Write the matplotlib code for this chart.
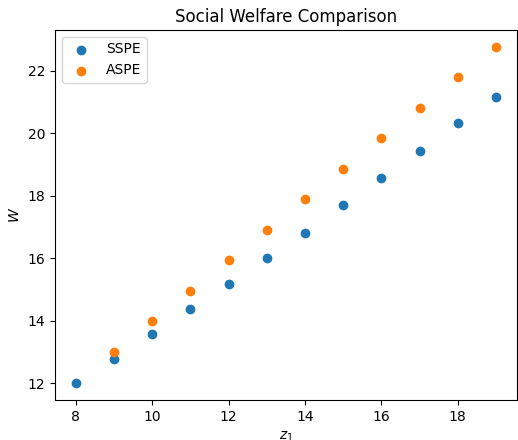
import matplotlib.pyplot as plt

z1 = [8, 9, 10, 11, 12, 13, 14, 15, 16, 17, 18, 19]
sspe = [12.0, 12.77, 13.57, 14.37, 15.17, 16.0, 16.8, 17.7, 18.57, 19.44, 20.33, 21.17]
z1_aspe = [9, 10, 11, 12, 13, 14, 15, 16, 17, 18, 19]
aspe = [12.99, 13.99, 14.95, 15.94, 16.9, 17.9, 18.86, 19.85, 20.81, 21.8, 22.77]

fig = plt.figure(figsize=(5.18, 4.4), dpi=100)
ax = fig.add_axes([0.106, 0.091, 0.892, 0.841])

ax.scatter(z1, sspe, label='SSPE')
ax.scatter(z1_aspe, aspe, label='ASPE')
ax.set_xlabel('$z_1$')
ax.set_ylabel('$W$')
ax.set_title('Social Welfare Comparison')
ax.legend(loc='upper left')

fig.savefig('out.png')
